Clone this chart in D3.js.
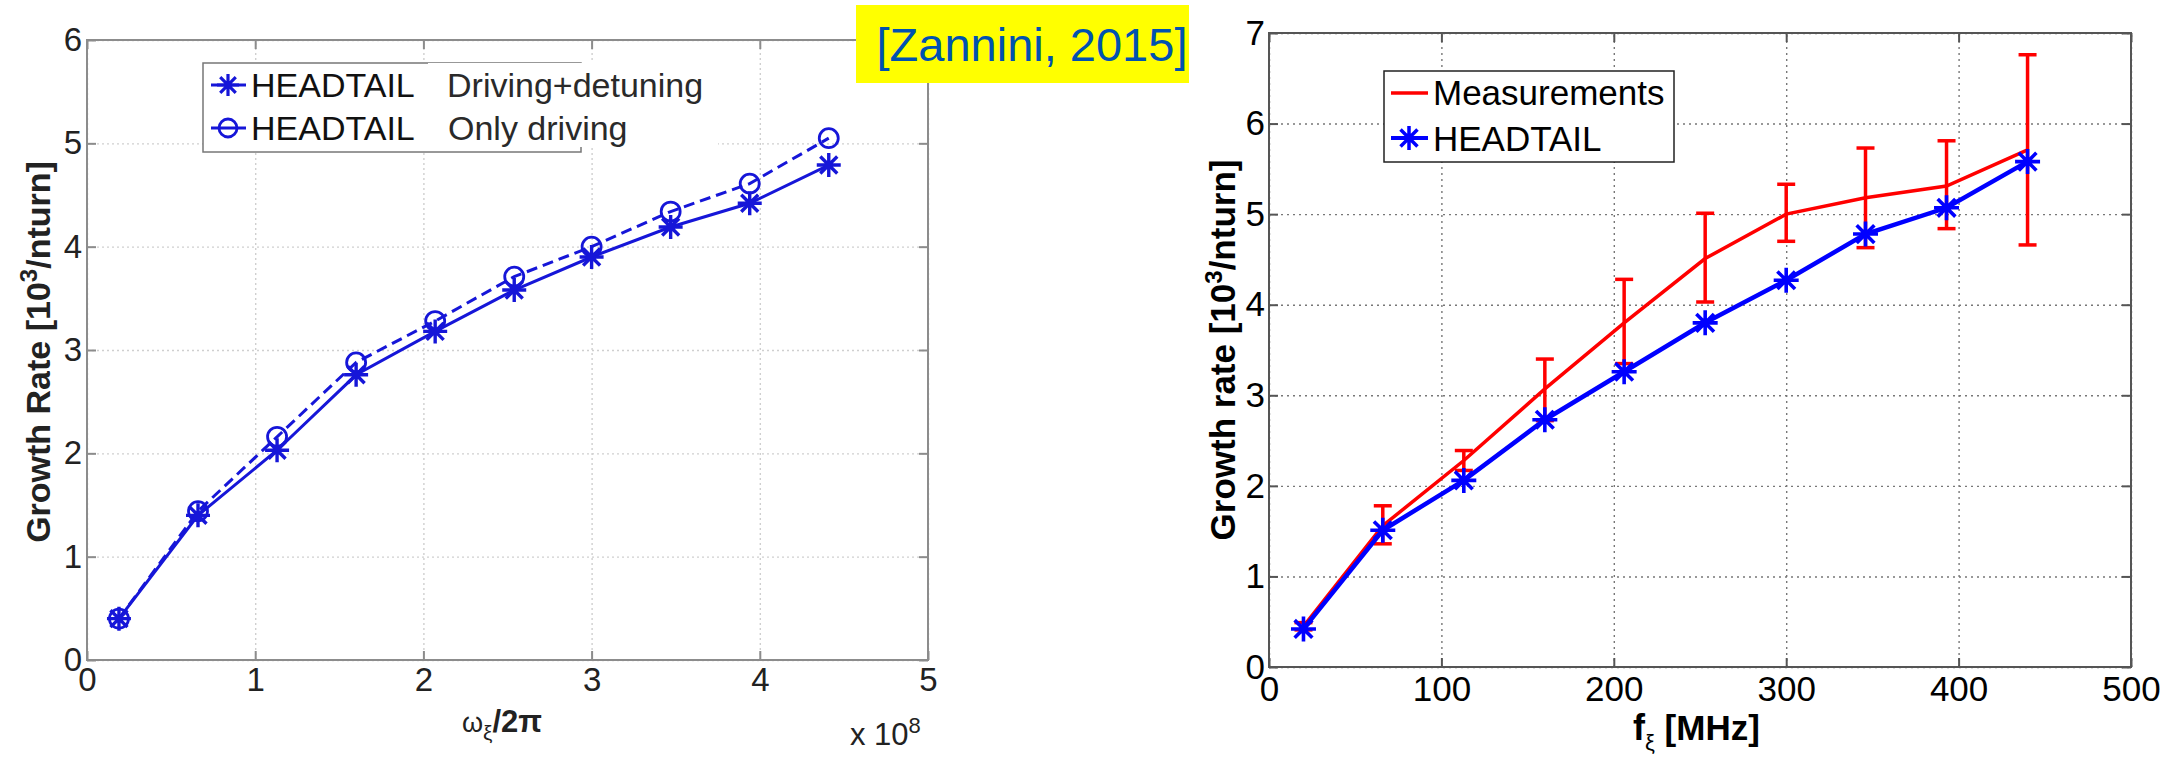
<!DOCTYPE html>
<html lang="en">
<head>
<meta charset="utf-8">
<title>Growth rate vs frequency</title>
<script src="https://d3js.org/d3.v7.min.js"></script>
<style>
  body { margin: 0; background: #fff; }
  svg text { font-family: "Liberation Sans", Arial, Helvetica, sans-serif; }
</style>
</head>
<body>
<svg id="chart" width="2183" height="762"></svg>
<script>
/* global d3 */

// left panel: HEADTAIL, x in units of 1e8
var omegaX = [0.19, 0.66, 1.13, 1.60, 2.07, 2.54, 3.00, 3.47, 3.94, 4.41];
var rateDetuning = [0.40, 1.40, 2.03, 2.76, 3.18, 3.58, 3.90, 4.19, 4.42, 4.79];
var rateDriving = [0.40, 1.44, 2.16, 2.88, 3.28, 3.71, 4.00, 4.34, 4.61, 5.05];
var leftXTicks = [0, 1, 2, 3, 4, 5];
var leftYTicks = [0, 1, 2, 3, 4, 5, 6];

// right panel: measurements vs HEADTAIL, MHz
var freq = [20, 66, 113, 160, 206, 253, 300, 346, 393, 440];
var measured = [0.45, 1.56, 2.28, 3.07, 3.80, 4.51, 5.00, 5.18, 5.31, 5.71];
var measLow = [0.41, 1.36, 2.17, 2.72, 3.35, 4.03, 4.70, 4.63, 4.84, 4.66];
var measHigh = [0.49, 1.78, 2.39, 3.40, 4.28, 5.01, 5.33, 5.73, 5.81, 6.76];
var headtail = [0.42, 1.51, 2.06, 2.73, 3.26, 3.80, 4.27, 4.78, 5.07, 5.58];
var rightXTicks = [0, 100, 200, 300, 400, 500];
var rightYTicks = [0, 1, 2, 3, 4, 5, 6, 7];

var svg = d3.select('#chart');
var fmt = d3.format('d');

function starPath(r) {
    var d = r * 0.7071;
    return 'M' + (-r) + ',0L' + r + ',0M0,' + (-r) + 'L0,' + r +
        'M' + (-d) + ',' + (-d) + 'L' + d + ',' + d +
        'M' + (-d) + ',' + d + 'L' + d + ',' + (-d);
}

function frame(x, y, xTicks, yTicks, st) {
    var x0 = x.range()[0], x1 = x.range()[1],
        y0 = y.range()[0], y1 = y.range()[1],
        g = svg.append('g');

    // grid
    g.append('g').attr('transform', 'translate(0,' + y0 + ')')
        .call(d3.axisBottom(x).tickValues(xTicks).tickSize(-(y0 - y1)).tickFormat(''))
        .call(function(a) { a.select('.domain').remove(); });
    g.append('g').attr('transform', 'translate(' + x0 + ',0)')
        .call(d3.axisLeft(y).tickValues(yTicks).tickSize(-(x1 - x0)).tickFormat(''))
        .call(function(a) { a.select('.domain').remove(); });
    g.selectAll('.tick line')
        .attr('stroke', st.grid).attr('stroke-width', 1.4).attr('stroke-dasharray', st.dash);

    // inward ticks on four sides
    var tl = 9;
    var b = g.append('g').attr('transform', 'translate(0,' + y0 + ')')
        .call(d3.axisBottom(x).tickValues(xTicks).tickFormat(fmt)
            .tickSizeInner(-tl).tickSizeOuter(0).tickPadding(st.xpad));
    var t = g.append('g').attr('transform', 'translate(0,' + y1 + ')')
        .call(d3.axisTop(x).tickValues(xTicks).tickSizeInner(-tl).tickSizeOuter(0).tickFormat(''));
    var l = g.append('g').attr('transform', 'translate(' + x0 + ',0)')
        .call(d3.axisLeft(y).tickValues(yTicks).tickFormat(fmt)
            .tickSizeInner(-tl).tickSizeOuter(0).tickPadding(st.ypad));
    var r = g.append('g').attr('transform', 'translate(' + x1 + ',0)')
        .call(d3.axisRight(y).tickValues(yTicks).tickSizeInner(-tl).tickSizeOuter(0).tickFormat(''));
    [b, t, l, r].forEach(function(a) {
        a.select('.domain').remove();
        a.selectAll('line').attr('stroke', st.axis).attr('stroke-width', 2);
        a.selectAll('text').attr('font-size', st.font).attr('fill', st.text)
            .attr('font-family', '"Liberation Sans", Arial, sans-serif');
    });

    g.append('rect')
        .attr('x', x0).attr('y', y1)
        .attr('width', x1 - x0).attr('height', y0 - y1)
        .attr('fill', 'none').attr('stroke', st.axis).attr('stroke-width', 2);
    return g;
}

// ---------- left panel ----------
var xl = d3.scaleLinear().domain([0, 5]).range([87, 928]);
var yl = d3.scaleLinear().domain([0, 6]).range([660, 40]);
frame(xl, yl, leftXTicks, leftYTicks,
    {grid: '#cfcfcf', dash: '2,3', axis: '#8c8c8c', text: '#222', font: 33, xpad: 8, ypad: 5});

var blueL = '#1616d8';
var lineL = d3.line().x(function(d) { return xl(d[0]); }).y(function(d) { return yl(d[1]); });
var drvPts = d3.zip(omegaX, rateDriving),
    detPts = d3.zip(omegaX, rateDetuning);

svg.append('path').attr('d', lineL(drvPts))
    .attr('fill', 'none').attr('stroke', blueL).attr('stroke-width', 3).attr('stroke-dasharray', '11,6');
svg.append('path').attr('d', lineL(detPts))
    .attr('fill', 'none').attr('stroke', blueL).attr('stroke-width', 3);
svg.selectAll('.circL').data(drvPts).enter().append('circle')
    .attr('cx', function(d) { return xl(d[0]); })
    .attr('cy', function(d) { return yl(d[1]); })
    .attr('r', 9.5).attr('fill', 'none').attr('stroke', blueL).attr('stroke-width', 2.8);
svg.selectAll('.starL').data(detPts).enter().append('path')
    .attr('transform', function(d) { return 'translate(' + xl(d[0]) + ',' + yl(d[1]) + ')'; })
    .attr('d', starPath(12)).attr('stroke', blueL).attr('stroke-width', 3.4);

// left legend
svg.append('rect').attr('x', 203).attr('y', 63).attr('width', 378).attr('height', 89)
    .attr('fill', '#fff').attr('stroke', '#777').attr('stroke-width', 1.5);
svg.append('line').attr('x1', 211).attr('x2', 246).attr('y1', 85).attr('y2', 85)
    .attr('stroke', blueL).attr('stroke-width', 3);
svg.append('path').attr('transform', 'translate(228,85)').attr('d', starPath(11))
    .attr('stroke', blueL).attr('stroke-width', 3.2);
svg.append('line').attr('x1', 211).attr('x2', 246).attr('y1', 128).attr('y2', 128)
    .attr('stroke', blueL).attr('stroke-width', 3);
svg.append('circle').attr('cx', 228).attr('cy', 128).attr('r', 9)
    .attr('fill', 'none').attr('stroke', blueL).attr('stroke-width', 2.8);
svg.append('text').attr('x', 251).attr('y', 97).attr('font-size', 34).attr('fill', '#111').text('HEADTAIL');
svg.append('text').attr('x', 251).attr('y', 140).attr('font-size', 34).attr('fill', '#111').text('HEADTAIL');
svg.append('rect').attr('x', 428).attr('y', 63).attr('width', 290).attr('height', 84).attr('fill', '#fff');
svg.append('text').attr('x', 447).attr('y', 97).attr('font-size', 34).attr('fill', '#2a2a2a').text('Driving+detuning');
svg.append('text').attr('x', 448).attr('y', 140).attr('font-size', 34).attr('fill', '#2a2a2a').text('Only driving');

// left axis labels
var ylab = svg.append('text')
    .attr('transform', 'translate(50,352) rotate(-90)')
    .attr('text-anchor', 'middle').attr('font-size', 34).attr('font-weight', 'bold').attr('fill', '#222');
ylab.append('tspan').text('Growth Rate [10');
ylab.append('tspan').attr('baseline-shift', 'super').attr('font-size', 24).text('3');
ylab.append('tspan').text('/nturn]');

var xlab = svg.append('text').attr('x', 462).attr('y', 732).attr('fill', '#222');
xlab.append('tspan').attr('font-size', 27).text('ω');
xlab.append('tspan').attr('font-size', 21).attr('baseline-shift', '-40%').text('ξ');
xlab.append('tspan').attr('font-size', 31).attr('font-weight', 'bold').text('/2π');

var xmul = svg.append('text').attr('x', 850).attr('y', 745).attr('font-size', 31).attr('fill', '#222');
xmul.append('tspan').text('x 10');
xmul.append('tspan').attr('baseline-shift', 'super').attr('font-size', 22).text('8');

// ---------- right panel ----------
var xr = d3.scaleLinear().domain([0, 500]).range([1269, 2131]);
var yr = d3.scaleLinear().domain([0, 7]).range([667, 33]);
frame(xr, yr, rightXTicks, rightYTicks,
    {grid: '#777', dash: '2,4', axis: '#555', text: '#000', font: 35, xpad: 9, ypad: 4});

var lineR = d3.line().x(function(d) { return xr(d[0]); }).y(function(d) { return yr(d[1]); });
var measPts = d3.range(freq.length).map(function(i) {
    return {f: freq[i], v: measured[i], lo: measLow[i], hi: measHigh[i]};
});

var eb = svg.selectAll('.err').data(measPts).enter().append('g')
    .attr('stroke', '#ff0000').attr('stroke-width', 3.5);
eb.append('line')
    .attr('x1', function(d) { return xr(d.f); }).attr('x2', function(d) { return xr(d.f); })
    .attr('y1', function(d) { return yr(d.lo); }).attr('y2', function(d) { return yr(d.hi); });
eb.append('line')
    .attr('x1', function(d) { return xr(d.f) - 9; }).attr('x2', function(d) { return xr(d.f) + 9; })
    .attr('y1', function(d) { return yr(d.lo); }).attr('y2', function(d) { return yr(d.lo); });
eb.append('line')
    .attr('x1', function(d) { return xr(d.f) - 9; }).attr('x2', function(d) { return xr(d.f) + 9; })
    .attr('y1', function(d) { return yr(d.hi); }).attr('y2', function(d) { return yr(d.hi); });

svg.append('path').attr('d', lineR(d3.zip(freq, measured)))
    .attr('fill', 'none').attr('stroke', '#ff0000').attr('stroke-width', 3.5);
var htPts = d3.zip(freq, headtail);
svg.append('path').attr('d', lineR(htPts))
    .attr('fill', 'none').attr('stroke', '#0000ff').attr('stroke-width', 4.5);
svg.selectAll('.starR').data(htPts).enter().append('path')
    .attr('transform', function(d) { return 'translate(' + xr(d[0]) + ',' + yr(d[1]) + ')'; })
    .attr('d', starPath(12.5)).attr('stroke', '#0000ff').attr('stroke-width', 3.6);

// right legend
svg.append('rect').attr('x', 1384).attr('y', 71).attr('width', 290).attr('height', 91)
    .attr('fill', '#fff').attr('stroke', '#222').attr('stroke-width', 1.5);
svg.append('line').attr('x1', 1391).attr('x2', 1428).attr('y1', 93).attr('y2', 93)
    .attr('stroke', '#ff0000').attr('stroke-width', 3.5);
svg.append('line').attr('x1', 1391).attr('x2', 1428).attr('y1', 138).attr('y2', 138)
    .attr('stroke', '#0000ff').attr('stroke-width', 4);
svg.append('path').attr('transform', 'translate(1409,138)').attr('d', starPath(12))
    .attr('stroke', '#0000ff').attr('stroke-width', 3.5);
svg.append('text').attr('x', 1433).attr('y', 105).attr('font-size', 35).attr('fill', '#000').text('Measurements');
svg.append('text').attr('x', 1433).attr('y', 151).attr('font-size', 35).attr('fill', '#000').text('HEADTAIL');

// right axis labels
var ylabR = svg.append('text')
    .attr('transform', 'translate(1235,350) rotate(-90)')
    .attr('text-anchor', 'middle').attr('font-size', 35).attr('font-weight', 'bold').attr('fill', '#000');
ylabR.append('tspan').text('Growth rate [10');
ylabR.append('tspan').attr('baseline-shift', 'super').attr('font-size', 24).text('3');
ylabR.append('tspan').text('/nturn]');

var xlabR = svg.append('text').attr('x', 1633).attr('y', 740).attr('font-weight', 'bold').attr('fill', '#000');
xlabR.append('tspan').attr('font-size', 36).text('f');
xlabR.append('tspan').attr('font-size', 22).attr('font-weight', 'normal').attr('baseline-shift', '-45%').text('ξ');
xlabR.append('tspan').attr('font-size', 35).text(' [MHz]');

// citation tag
svg.append('rect').attr('x', 856).attr('y', 5).attr('width', 333).attr('height', 78).attr('fill', '#ffff00');
svg.append('text').attr('x', 1032).attr('y', 61).attr('text-anchor', 'middle')
    .attr('font-size', 47).attr('fill', '#0052b0').text('[Zannini, 2015]');
</script>
</body>
</html>
